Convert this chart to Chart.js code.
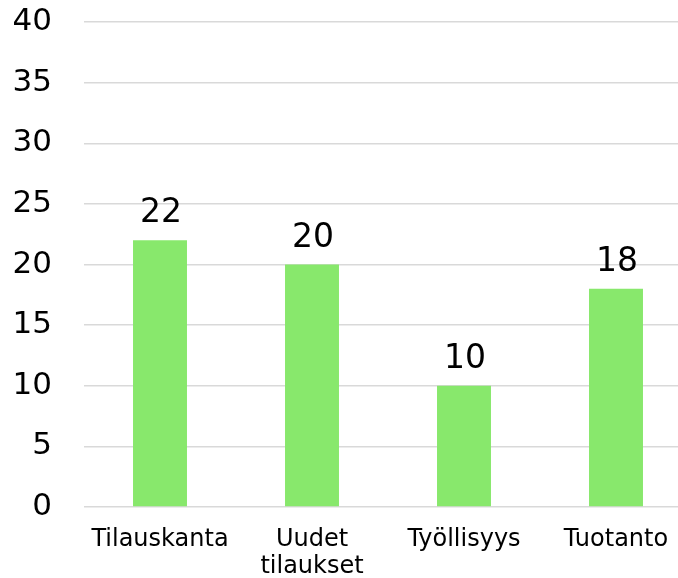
<!DOCTYPE html>
<html><head><meta charset="utf-8">
<script src="https://cdn.jsdelivr.net/npm/chart.js@4/dist/chart.umd.min.js"></script>
<style>
html,body{margin:0;padding:0;background:#fff;overflow:hidden;width:678px;height:578px;}
#wrap{width:692px;height:578px;position:relative;}
</style></head>
<body><div id="wrap"><canvas id="c" width="692" height="578"></canvas></div>
<script>
const categories = ['Tilauskanta', ['Uudet', 'tilaukset'], 'Työllisyys', 'Tuotanto'];
const values = [22, 20, 10, 18];
const yTicks = [0, 5, 10, 15, 20, 25, 30, 35, 40];

const FONT = '"DejaVu Sans", Verdana, sans-serif';

const labelPlugin = {
  id: 'valueLabels',
  afterDatasetsDraw(chart) {
    const ctx = chart.ctx;
    const meta = chart.getDatasetMeta(0);
    ctx.save();
    ctx.font = '33px ' + FONT;
    ctx.fillStyle = '#000';
    ctx.textAlign = 'center';
    ctx.textBaseline = 'alphabetic';
    meta.data.forEach((bar, i) => {
      ctx.fillText(String(values[i]), bar.x + 1, bar.y - 18);
    });
    ctx.restore();
  }
};

new Chart(document.getElementById('c'), {
  type: 'bar',
  data: {
    labels: categories,
    datasets: [{
      data: values,
      backgroundColor: '#88E86C',
      borderWidth: 0,
      barPercentage: 0.355,
      categoryPercentage: 1
    }]
  },
  options: {
    responsive: false,
    animation: false,
    layout: { padding: { top: 0, right: 0, left: 0, bottom: 0 } },
    plugins: { legend: { display: false }, tooltip: { enabled: false } },
    scales: {
      x: {
        grid: { display: false },
        border: { display: false },
        ticks: { color: '#000', font: { family: FONT, size: 24, lineHeight: 1.1 }, padding: 12, maxRotation: 0, autoSkip: false },
        afterFit(s) { s.height = 71; }
      },
      y: {
        min: 0, max: 40,
        afterBuildTicks(s) { s.ticks = yTicks.map(v => ({ value: v })); },
        grid: { color: '#d9d9d9', lineWidth: 1.5, drawTicks: false },
        border: { display: false },
        ticks: { color: '#000', font: { family: FONT, size: 31 }, padding: 32 },
        afterFit(s) { s.width = 84; s.paddingTop = 22; s.paddingBottom = 0; }
      }
    }
  },
  plugins: [labelPlugin]
});
</script></body></html>
